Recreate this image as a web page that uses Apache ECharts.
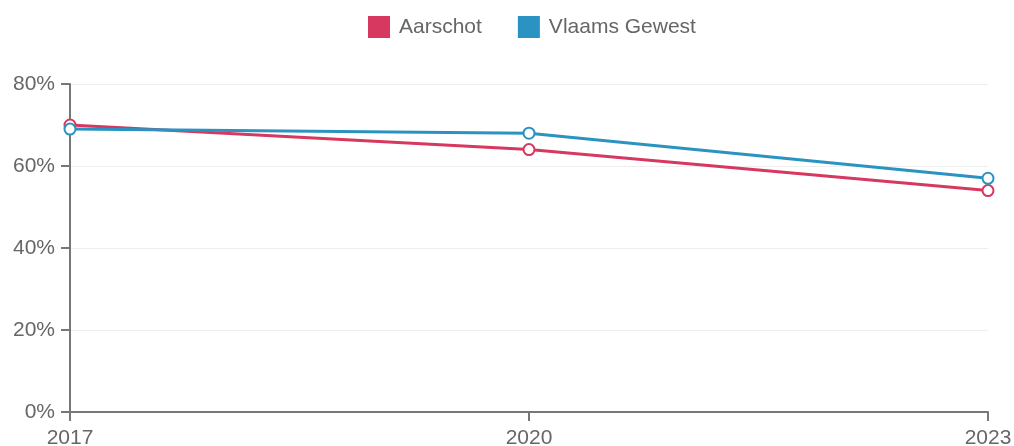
<!DOCTYPE html>
<html>
<head>
<meta charset="utf-8">
<script src="https://cdn.jsdelivr.net/npm/echarts@6/dist/echarts.min.js"></script>
<style>
	html, body { margin: 0; padding: 0; background: #fff; }
	#chart { width: 1014px; height: 446px; }
</style>
</head>
<body>
<div id="chart"></div>
<script>
// jaren op de x-as
const years = ['2017', '2020', '2023'];
// percentages per reeks
const aarschot = [70, 64, 54];
const vlaams = [69, 68, 57];
const seriesNames = ['Aarschot', 'Vlaams Gewest'];
const colors = ['#d7385f', '#2b93c1'];

const chart = echarts.init(document.getElementById('chart'));

function lineSeries(name, data, color) {
	return {
		name: name,
		type: 'line',
		data: data,
		symbol: 'circle',
		symbolSize: 11,
		showAllSymbol: true,
		itemStyle: {
			color: '#fff',
			borderColor: color,
			borderWidth: 2
		},
		lineStyle: {
			color: color,
			width: 3
		}
	};
}

chart.setOption({
	animation: false,
	textStyle: { fontFamily: '"Liberation Sans", Arial, sans-serif' },
	legend: {
		top: 11,
		left: 363,
		itemWidth: 20,
		itemHeight: 20,
		itemGap: 36,
		icon: 'rect',
		textStyle: { color: '#666', fontSize: 21, padding: [0, 0, 0, 5] },
		data: seriesNames.map((n, i) => ({ name: n, itemStyle: { color: colors[i] } }))
	},
	grid: {
		left: 70,
		right: 26,
		top: 84,
		bottom: 34,
		containLabel: false,
		outerBoundsMode: 'none'
	},
	xAxis: {
		type: 'category',
		boundaryGap: false,
		data: years,
		axisLine: { lineStyle: { color: '#777', width: 2 } },
		axisTick: { show: true, alignWithLabel: true, length: 9, lineStyle: { color: '#777', width: 2 } },
		axisLabel: { color: '#666', fontSize: 21, margin: 16 },
		splitLine: { show: false }
	},
	yAxis: {
		type: 'value',
		min: 0,
		max: 80,
		interval: 20,
		axisLine: { show: true, lineStyle: { color: '#777', width: 2 } },
		axisTick: { show: true, length: 9, lineStyle: { color: '#777', width: 2 } },
		axisLabel: { color: '#666', fontSize: 21, margin: 15, formatter: '{value}%' },
		splitLine: { lineStyle: { color: '#eee', width: 1 } }
	},
	series: [
		lineSeries(seriesNames[0], aarschot, colors[0]),
		lineSeries(seriesNames[1], vlaams, colors[1])
	]
});
</script>
</body>
</html>
